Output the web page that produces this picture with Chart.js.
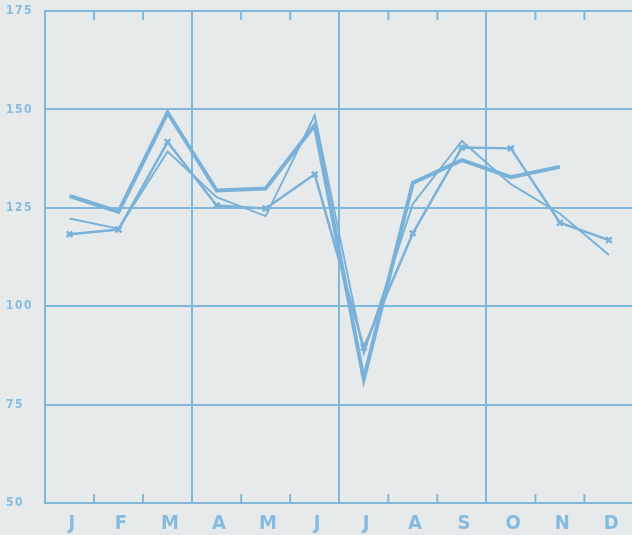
<!DOCTYPE html>
<html>
<head>
<meta charset="utf-8">
<script src="https://cdn.jsdelivr.net/npm/chart.js@4.4.1/dist/chart.umd.min.js"></script>
<style>
    html, body { margin: 0; padding: 0; background: #e7eaeb; overflow: hidden; }
    #wrap { width: 640px; height: 535px; }
</style>
</head>
<body>
<div id="wrap"><canvas id="chart" width="640" height="535"></canvas></div>
<script>
// Monthly values
const months = ['J', 'F', 'M', 'A', 'M', 'J', 'J', 'A', 'S', 'O', 'N', 'D'];
const heavySeries = [128, 124, 149.2, 129.4, 129.9, 146, 81.5, 131.3, 137.1, 132.8, 135.4, null];
const markedSeries = [118.3, 119.5, 141.7, 125.6, 124.8, 133.5, 89.5, 118.5, 140.3, 140.1, 121.2, 116.8];
const lightSeries = [122.3, 119.7, 139.3, 127.7, 122.9, 148.5, 88, 126, 142, 131, 123.5, 113];
const yTicks = [50, 75, 100, 125, 150, 175];

const lineColor = '#79b1d9';
const gridColor = '#82b7dc';
const textColor = '#86bbe0';

// Short inward tick marks at the month boundaries, top and bottom
const monthTicks = {
    id: 'monthTicks',
    afterDraw(chart) {
        const x = chart.scales.x;
        const area = chart.chartArea;
        const ctx = chart.ctx;
        ctx.save();
        ctx.strokeStyle = gridColor;
        ctx.lineWidth = 2;
        for (let i = 1; i < months.length; i++) {
            if (i % 3 === 0) continue;
            const px = (x.getPixelForValue(i - 1) + x.getPixelForValue(i)) / 2;
            ctx.beginPath();
            ctx.moveTo(px, area.top);
            ctx.lineTo(px, area.top + 9);
            ctx.moveTo(px, area.bottom);
            ctx.lineTo(px, area.bottom - 9);
            ctx.stroke();
        }
        ctx.restore();
    }
};

// Spaced-out digits like the plotter lettering
const letterSpace = {
    id: 'letterSpace',
    beforeDraw(chart) {
        chart.ctx.letterSpacing = '1.5px';
    }
};

new Chart(document.getElementById('chart'), {
    type: 'line',
    data: {
        labels: months,
        datasets: [
            {
                label: 'heavy',
                data: heavySeries,
                borderColor: lineColor,
                borderWidth: 4,
                pointRadius: 0,
                tension: 0
            },
            {
                label: 'marked',
                data: markedSeries,
                borderColor: lineColor,
                borderWidth: 2.5,
                pointStyle: 'crossRot',
                pointRadius: 4,
                pointBorderWidth: 2.5,
                pointBorderColor: lineColor,
                tension: 0
            },
            {
                label: 'light',
                data: lightSeries,
                borderColor: lineColor,
                borderWidth: 2,
                pointRadius: 0,
                tension: 0
            }
        ]
    },
    options: {
        responsive: false,
        animation: false,
        layout: { padding: { left: 6, right: 3, top: 11, bottom: 0 } },
        plugins: {
            legend: { display: false },
            tooltip: { enabled: false }
        },
        scales: {
            x: {
                offset: true,
                afterFit(scale) { scale.height = 32; },
                grid: {
                    offset: true,
                    drawTicks: false,
                    lineWidth: 2,
                    color: ctx => (ctx.index % 3 === 0 ? gridColor : 'rgba(0,0,0,0)')
                },
                border: { display: true, color: gridColor, width: 2 },
                ticks: {
                    color: textColor,
                    padding: 9,
                    labelOffset: 3,
                    font: { family: 'DejaVu Sans Condensed', size: 20, weight: 'bold' }
                }
            },
            y: {
                min: 50,
                max: 175,
                afterFit(scale) { scale.width = 39; },
                afterBuildTicks(scale) {
                    scale.ticks = yTicks.map(v => ({ value: v }));
                },
                grid: {
                    drawTicks: false,
                    lineWidth: 2,
                    color: gridColor
                },
                border: { display: true, color: gridColor, width: 2 },
                ticks: {
                    color: textColor,
                    crossAlign: 'far',
                    font: { family: 'DejaVu Sans Condensed', size: 12, weight: 'bold' }
                }
            }
        }
    },
    plugins: [monthTicks, letterSpace]
});
</script>
</body>
</html>
